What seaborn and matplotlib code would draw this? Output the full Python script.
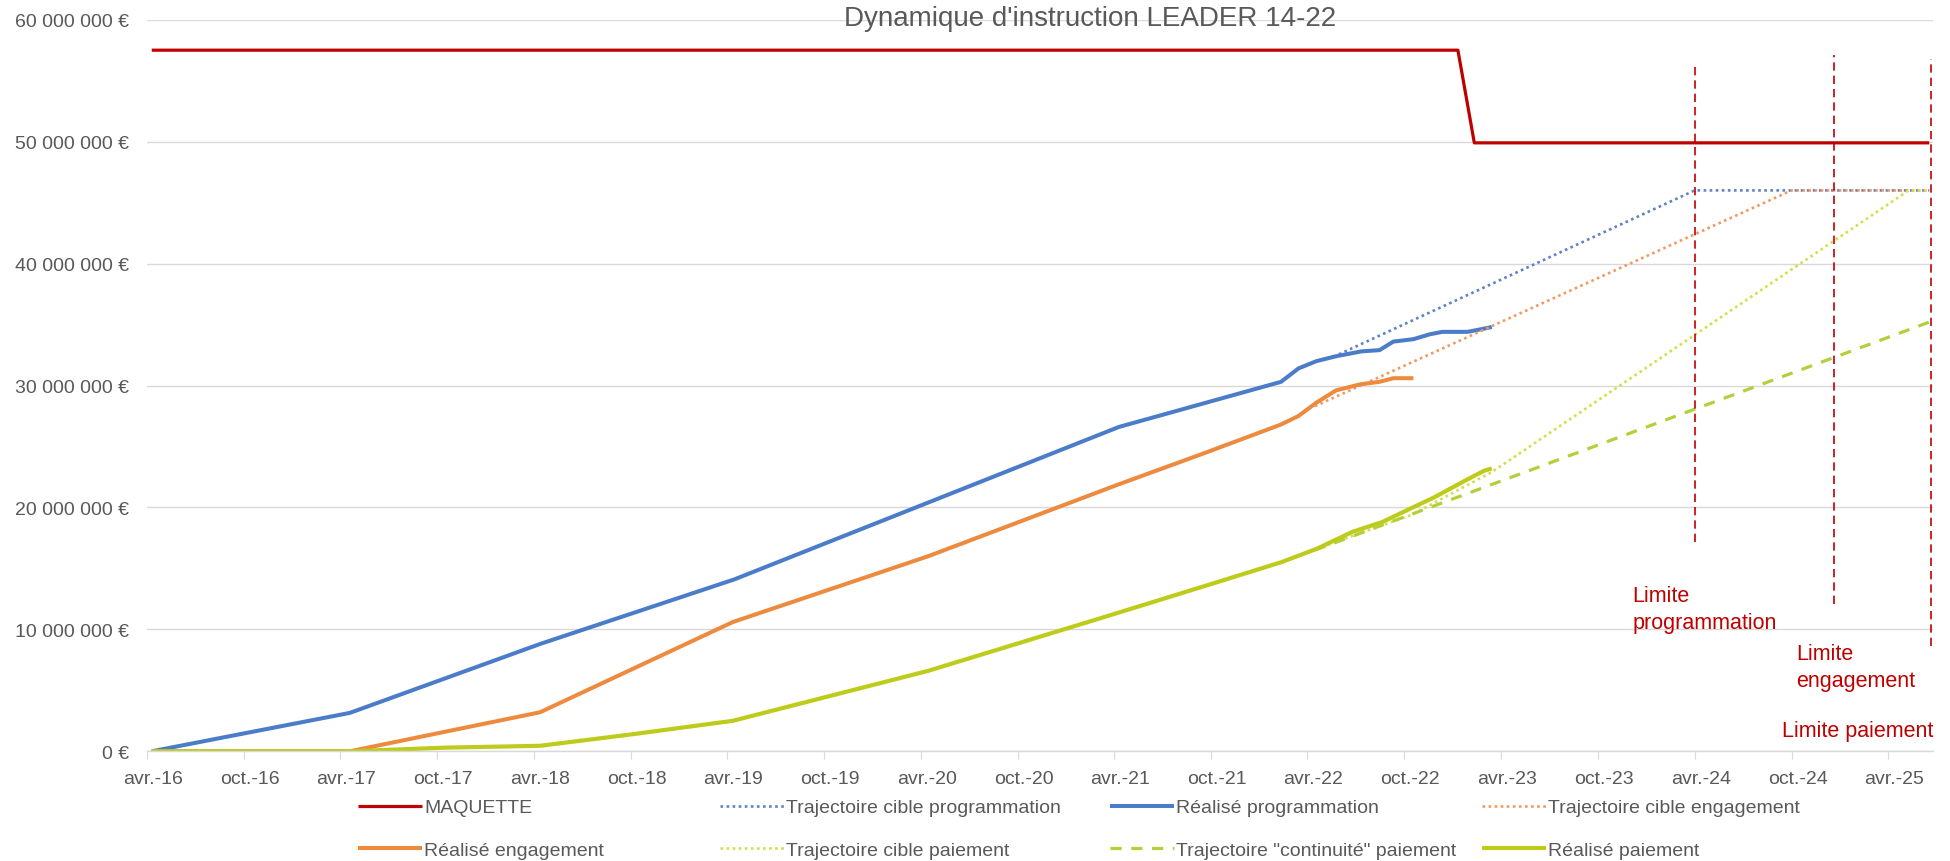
import matplotlib
matplotlib.use("Agg")
import matplotlib.pyplot as plt
import matplotlib.dates as mdates
from matplotlib.transforms import ScaledTranslation
import seaborn as sns
import pandas as pd

sns.set_theme(style="white")
plt.rcParams['font.family'] = ['Liberation Sans', 'DejaVu Sans']

# ---------------- data ----------------
title = "Dynamique d'instruction LEADER 14-22"

maquette_dates = ["2016-04-10", "2023-01-10", "2023-02-10", "2025-06-18"]
maquette_vals = [57_500_000, 57_500_000, 49_900_000, 49_900_000]

cible_prog_dates = ["2022-05-20", "2024-04-01", "2025-06-18"]
cible_prog_vals = [32_350_000, 46_000_000, 46_000_000]

real_prog_dates = ["2016-04-10", "2017-04-19", "2018-04-13", "2019-04-15", "2021-04-10",
                   "2022-02-10", "2022-03-15", "2022-04-18", "2022-05-25", "2022-07-12",
                   "2022-08-15", "2022-09-10", "2022-10-18", "2022-11-18", "2022-12-12",
                   "2023-01-28", "2023-02-21", "2023-03-15"]
real_prog_vals = [0, 3_150_000, 8_800_000, 14_100_000, 26_600_000,
                  30_300_000, 31_400_000, 32_000_000, 32_400_000, 32_800_000,
                  32_900_000, 33_600_000, 33_800_000, 34_200_000, 34_400_000,
                  34_400_000, 34_600_000, 34_800_000]

cible_eng_dates = ["2022-04-15", "2024-10-01", "2025-06-18"]
cible_eng_vals = [28_300_000, 46_000_000, 46_000_000]

real_eng_dates = ["2016-04-10", "2017-04-19", "2018-04-13", "2019-04-12", "2020-04-15",
                  "2021-04-10", "2021-09-15", "2022-02-10", "2022-03-15", "2022-04-18",
                  "2022-05-25", "2022-07-10", "2022-08-15", "2022-09-10", "2022-10-18"]
real_eng_vals = [0, 0, 3_200_000, 10_600_000, 16_000_000,
                 21_900_000, 24_400_000, 26_800_000, 27_500_000, 28_600_000,
                 29_600_000, 30_100_000, 30_300_000, 30_600_000, 30_600_000]

cible_pai_dates = ["2022-04-18", "2022-10-15", "2023-03-15", "2025-05-10", "2025-06-18"]
cible_pai_vals = [16_600_000, 19_400_000, 22_900_000, 46_000_000, 46_000_000]

continuite_pai_dates = ["2022-04-15", "2025-06-18"]
continuite_pai_vals = [16_500_000, 35_200_000]

real_pai_dates = ["2016-04-10", "2017-04-19", "2017-10-15", "2018-04-13", "2018-10-05",
                  "2019-04-12", "2020-04-15", "2021-03-05", "2021-09-15", "2022-02-10",
                  "2022-04-18", "2022-06-25", "2022-08-20", "2022-10-12", "2022-11-25",
                  "2023-01-28", "2023-02-28", "2023-03-15"]
real_pai_vals = [0, 0, 300_000, 450_000, 1_400_000,
                 2_500_000, 6_600_000, 10_900_000, 13_500_000, 15_500_000,
                 16_600_000, 18_000_000, 18_800_000, 19_900_000, 20_800_000,
                 22_300_000, 23_000_000, 23_200_000]

limit_labels = ["Limite\nprogrammation", "Limite\nengagement", "Limite paiement"]
limit_dates = ["2024-04-01", "2024-12-20", "2025-06-22"]
limit_bottoms = [17_200_000, 12_100_000, 8_600_000]
limit_tops = [56_400_000, 57_100_000, 56_800_000]

tick_dates = pd.date_range("2016-04-01", "2025-04-01", freq="6MS")
tick_labels = ["avr.-16", "oct.-16", "avr.-17", "oct.-17", "avr.-18", "oct.-18",
               "avr.-19", "oct.-19", "avr.-20", "oct.-20", "avr.-21", "oct.-21",
               "avr.-22", "oct.-22", "avr.-23", "oct.-23", "avr.-24", "oct.-24", "avr.-25"]
y_ticks = [0, 10_000_000, 20_000_000, 30_000_000, 40_000_000, 50_000_000, 60_000_000]

# ---------------- figure ----------------
W, H = 1950, 862
fig = plt.figure(figsize=(W / 100, H / 100), dpi=100)
ax = fig.add_axes([147 / W, 1 - 752.3 / H, (1933 - 147) / W, (752.3 - 20.7) / H])

dot = (0, (1, 1.3))
series = [
    ("MAQUETTE", maquette_dates, maquette_vals, "#C00000", 2.3, "-"),
    ("Trajectoire cible programmation", cible_prog_dates, cible_prog_vals, "#5F82C4", 1.9, dot),
    ("Réalisé programmation", real_prog_dates, real_prog_vals, "#4A7CC9", 2.9, "-"),
    ("Trajectoire cible engagement", cible_eng_dates, cible_eng_vals, "#F09A62", 1.9, dot),
    ("Réalisé engagement", real_eng_dates, real_eng_vals, "#EE8A3E", 2.9, "-"),
    ("Trajectoire cible paiement", cible_pai_dates, cible_pai_vals, "#D3DF48", 1.9, dot),
    ("Trajectoire \"continuité\" paiement", continuite_pai_dates, continuite_pai_vals, "#B3CF3A", 2.3, (0, (3.5, 3))),
    ("Réalisé paiement", real_pai_dates, real_pai_vals, "#BDCB1B", 3.0, "-"),
]

handles = {}
for name, d, v, col, lw, ls in series:
    df = pd.DataFrame({"date": pd.to_datetime(d), "val": v})
    sns.lineplot(data=df, x="date", y="val", ax=ax, color=col, lw=lw,
                 linestyle=ls, estimator=None, sort=False, label=name)
    line = ax.lines[-1]
    line.set_solid_capstyle("butt")
    handles[name] = line

leg = ax.get_legend()
if leg is not None:
    leg.remove()

# limit lines
ax.vlines(mdates.date2num(pd.to_datetime(limit_dates)), limit_bottoms, limit_tops,
          colors="#C00000", linestyles=(0, (5, 3)), lw=1.2, zorder=5)

red = "#C00000"
ax.text(mdates.date2num(pd.Timestamp("2023-12-06")), 13_640_000, limit_labels[0],
        color=red, fontsize=15.5, ha="left", va="top", linespacing=1.38)
ax.text(mdates.date2num(pd.Timestamp("2024-10-09")), 8_890_000, limit_labels[1],
        color=red, fontsize=15.5, ha="left", va="top", linespacing=1.38)
ax.text(mdates.date2num(pd.Timestamp("2025-06-25")), 1_250_000, limit_labels[2],
        color=red, fontsize=15.5, ha="right", va="baseline")

# axes styling
ax.set_xlim(mdates.date2num(pd.Timestamp("2016-04-01")), mdates.date2num(pd.Timestamp("2025-06-25")))
ax.set_ylim(0, 60_000_000)
ax.set_xticks(mdates.date2num(tick_dates))
ax.set_xticklabels(tick_labels)
ax.set_yticks(y_ticks)
ax.set_yticklabels([("0 €" if t == 0 else f"{t:,}".replace(",", " ") + " €") for t in y_ticks])
ax.set_xlabel("")
ax.set_ylabel("")

for s in ["top", "right", "left"]:
    ax.spines[s].set_visible(False)
ax.spines["bottom"].set_color("#D9D9D9")
ax.spines["bottom"].set_linewidth(1.0)
ax.yaxis.grid(True, color="#D9D9D9", lw=1.0)
ax.xaxis.grid(False)
ax.set_axisbelow(True)
ax.tick_params(axis="x", direction="out", length=5.8, width=0.8, color="#D9D9D9",
               pad=8, labelsize=14, labelcolor="#595959", bottom=True)
ax.tick_params(axis="y", length=0, pad=13, labelsize=14, labelcolor="#595959")
for lab in ax.get_xticklabels():
    lab.set_transform(lab.get_transform() + ScaledTranslation(6 / 100, 0, fig.dpi_scale_trans))

fig.text(1090 / W, 1 - 26 / H, title, ha="center", va="baseline",
         fontsize=20, color="#595959")

# legend: 4 columns, row-major like the original
columns = [
    (["MAQUETTE", "Réalisé engagement"], 358),
    (["Trajectoire cible programmation", "Trajectoire cible paiement"], 720),
    (["Réalisé programmation", "Trajectoire \"continuité\" paiement"], 1110),
    (["Trajectoire cible engagement", "Réalisé paiement"], 1482),
]
for names, xpx in columns:
    fig.legend([handles[n] for n in names], names, loc="center left",
               bbox_to_anchor=(xpx / W, 1 - 830 / H), frameon=False,
               fontsize=14, labelcolor="#595959", handlelength=3.3,
               handletextpad=0.1, borderpad=0, borderaxespad=0, labelspacing=1.3)

fig.savefig("out.png", dpi=100)
